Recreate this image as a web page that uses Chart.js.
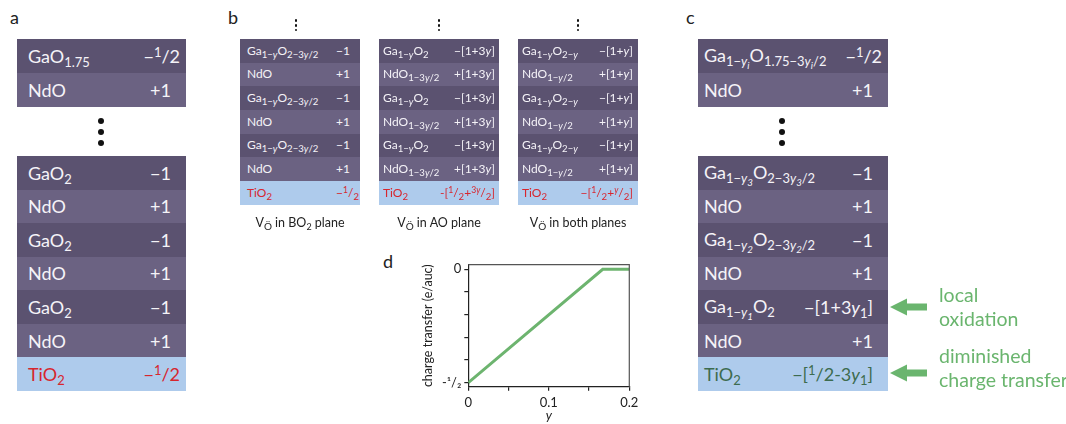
<!DOCTYPE html>
<html><head><meta charset="utf-8">
<script src="https://cdn.jsdelivr.net/npm/chart.js@4.4.1/dist/chart.umd.min.js"></script>
<style>
html,body{margin:0;padding:0;background:#fff;}
body{width:1066px;height:424px;position:relative;overflow:hidden;font-family:Lato,"Open Sans",sans-serif;color:#222;}
.plbl{position:absolute;font-size:18px;line-height:1;}
.stack{position:absolute;}
.row{display:flex;align-items:center;justify-content:space-between;box-sizing:border-box;color:#f5f3f8;white-space:nowrap;line-height:1;}
.row.dark{background:#5b5270;}
.row.light{background:#6b6282;}
.row.blue{background:#aecbec;color:#d7262e;}
.big .row{font-size:18px;}
.small .row{font-size:12px;}
sub{font-size:0.72em;vertical-align:-0.3em;line-height:0;}
sub sub{font-size:0.75em;vertical-align:-0.35em;}
sup{font-size:0.72em;vertical-align:0.45em;line-height:0;}
.small sub{font-size:0.8em;}
.fr{margin-right:-9px;}
.dot{position:absolute;background:#111;border-radius:50%;}
.cap{position:absolute;font-size:12.5px;text-align:center;width:160px;line-height:1;white-space:nowrap;}
.vo{font-size:0.8em;vertical-align:-0.3em;line-height:0;}
.gtxt{position:absolute;color:#6ab56e;font-size:19.5px;line-height:24px;white-space:nowrap;}
#cwrap{position:absolute;left:400px;top:250px;width:250px;height:174px;}
</style>
</head><body>
<div class="plbl" style="left:10px;top:8px;">a</div>
<div class="plbl" style="left:228px;top:8px;">b</div>
<div class="plbl" style="left:686px;top:8px;">c</div>
<div class="plbl" style="left:383px;top:252px;">d</div>
<div id="cwrap"><canvas id="chart" width="250" height="174"></canvas></div>
<svg style="position:absolute;left:0;top:0;" width="1066" height="424">
  <polygon points="890,307 907,298.5 907,303.5 927,303.5 927,310.5 907,310.5 907,315.5" fill="#6ab56e"/>
  <polygon points="890,373 907,364.5 907,369.5 927,369.5 927,376.5 907,376.5 907,381.5" fill="#6ab56e"/>
</svg>
<div class="gtxt" style="left:939px;top:283px;">local<br>oxidation</div>
<div class="gtxt" style="left:939px;top:344px;">diminished<br>charge transfer</div>
<script>
// ---- schematic layer stacks (formula, charge) ----
const panelATop = [['GaO<sub>1.75</sub>', '−<span class="fr"><sup>1</sup>/2</span>'], ['NdO', '+1']];
const panelABottom = [
  ['GaO<sub>2</sub>', '−1'], ['NdO', '+1'], ['GaO<sub>2</sub>', '−1'], ['NdO', '+1'],
  ['GaO<sub>2</sub>', '−1'], ['NdO', '+1'], ['TiO<sub>2</sub>', '−<span class="fr"><sup>1</sup>/2</span>']
];
const panelBBO2 = [
  ['Ga<sub>1−<i>y</i></sub>O<sub>2−3<i>y</i>/2</sub>', '−1'], ['NdO', '+1'],
  ['Ga<sub>1−<i>y</i></sub>O<sub>2−3<i>y</i>/2</sub>', '−1'], ['NdO', '+1'],
  ['Ga<sub>1−<i>y</i></sub>O<sub>2−3<i>y</i>/2</sub>', '−1'], ['NdO', '+1'],
  ['TiO<sub>2</sub>', '−<span class="fr"><sup>1</sup>/<sub>2</sub></span>']
];
const panelBAO = [
  ['Ga<sub>1−<i>y</i></sub>O<sub>2</sub>', '−[1+3<i>y</i>]'], ['NdO<sub>1−3<i>y</i>/2</sub>', '+[1+3<i>y</i>]'],
  ['Ga<sub>1−<i>y</i></sub>O<sub>2</sub>', '−[1+3<i>y</i>]'], ['NdO<sub>1−3<i>y</i>/2</sub>', '+[1+3<i>y</i>]'],
  ['Ga<sub>1−<i>y</i></sub>O<sub>2</sub>', '−[1+3<i>y</i>]'], ['NdO<sub>1−3<i>y</i>/2</sub>', '+[1+3<i>y</i>]'],
  ['TiO<sub>2</sub>', '-[<sup>1</sup>/<sub>2</sub>+<sup>3<i>y</i></sup>/<sub>2</sub>]']
];
const panelBBoth = [
  ['Ga<sub>1−<i>y</i></sub>O<sub>2−<i>y</i></sub>', '−[1+<i>y</i>]'], ['NdO<sub>1−<i>y</i>/2</sub>', '+[1+<i>y</i>]'],
  ['Ga<sub>1−<i>y</i></sub>O<sub>2−<i>y</i></sub>', '−[1+<i>y</i>]'], ['NdO<sub>1−<i>y</i>/2</sub>', '+[1+<i>y</i>]'],
  ['Ga<sub>1−<i>y</i></sub>O<sub>2−<i>y</i></sub>', '−[1+<i>y</i>]'], ['NdO<sub>1−<i>y</i>/2</sub>', '+[1+<i>y</i>]'],
  ['TiO<sub>2</sub>', '−[<sup>1</sup>/<sub>2</sub>+<sup><i>y</i></sup>/<sub>2</sub>]']
];
const panelBCaptions = ['in BO<sub>2</sub> plane', 'in AO plane', 'in both planes'];
const panelCTop = [['Ga<sub>1−<i>y<sub>i</sub></i></sub>O<sub>1.75−3<i>y<sub>i</sub></i>/2</sub>', '−<span class="fr"><sup>1</sup>/2</span>'], ['NdO', '+1']];
const panelCBottom = [
  ['Ga<sub>1−<i>y<sub>3</sub></i></sub>O<sub>2−3<i>y<sub>3</sub></i>/2</sub>', '−1'], ['NdO', '+1'],
  ['Ga<sub>1−<i>y<sub>2</sub></i></sub>O<sub>2−3<i>y<sub>2</sub></i>/2</sub>', '−1'], ['NdO', '+1'],
  ['Ga<sub>1−<i>y<sub>1</sub></i></sub>O<sub>2</sub>', '−[1+3<i>y</i><sub>1</sub>]'], ['NdO', '+1'],
  ['TiO<sub>2</sub>', '−[<sup>1</sup>/2-3<i>y</i><sub>1</sub>]']
];

// ---- panel d chart data ----
const yValues = [0, 0.167, 0.2];
const chargeTransfer = [-0.5, 0, 0];
const xTickValues = [0, 0.05, 0.1, 0.15, 0.2];
const xTickLabels = ['0', '', '0.1', '', '0.2'];
const yTickValues = [-0.5, -0.4, -0.3, -0.2, -0.1, 0];
const yTickLabels = ['-¹/₂', '', '', '', '', '0'];

function rowKind(f){ return f.startsWith('TiO') ? 'blue' : (f.startsWith('NdO') ? 'light' : 'dark'); }
function makeStack(rows, cls, left, top, width, rowH, padL, padR, blueText){
  const s = document.createElement('div');
  s.className = 'stack ' + cls;
  s.style.left = left + 'px'; s.style.top = top + 'px'; s.style.width = width + 'px';
  rows.forEach(([f, q]) => {
    const r = document.createElement('div');
    r.className = 'row ' + rowKind(f);
    r.style.height = rowH + 'px';
    r.style.paddingLeft = padL + 'px'; r.style.paddingRight = padR + 'px';
    if (blueText && rowKind(f) === 'blue') r.style.color = blueText;
    r.innerHTML = '<span>' + f + '</span><span>' + q + '</span>';
    s.appendChild(r);
  });
  document.body.appendChild(s);
}
function dots(x, ys, d){
  ys.forEach(y => { const e = document.createElement('div'); e.className = 'dot';
    e.style.left = (x - d/2) + 'px'; e.style.top = (y - d/2) + 'px'; e.style.width = d + 'px'; e.style.height = d + 'px';
    document.body.appendChild(e); });
}
makeStack(panelATop, 'big', 17, 39, 169, 34, 11, 15);
makeStack(panelABottom, 'big', 17, 156, 169, 33.57, 11, 15);
makeStack(panelBBO2, 'small', 240, 39, 120, 23.67, 7, 10);
makeStack(panelBAO, 'small', 379, 39, 120, 23.67, 4, 4);
makeStack(panelBBoth, 'small', 518, 39, 120, 23.67, 4, 5);
makeStack(panelCTop, 'big', 698, 39, 190, 34, 6, 15);
makeStack(panelCBottom, 'big', 698, 156, 190, 33.57, 6, 15, '#3d6b4f');
dots(101, [120.7, 132, 143.3], 6);
dots(781.7, [120.7, 132, 143.3], 6);
[296, 439, 578].forEach(x => dots(x, [20.7, 25.3, 30], 2.6));
[300, 439, 578].forEach((cx, i) => {
  const c = document.createElement('div'); c.className = 'cap';
  c.style.left = (cx - 80) + 'px'; c.style.top = '217px';
  c.innerHTML = 'V<span class="vo">Ö</span> ' + panelBCaptions[i];
  document.body.appendChild(c);
});

const framePlugin = {
  id: 'frame',
  afterDraw(chart){
    const {ctx, chartArea: a} = chart;
    ctx.save(); ctx.strokeStyle = '#555'; ctx.lineWidth = 1.2;
    ctx.beginPath(); ctx.moveTo(a.left, a.top); ctx.lineTo(a.right, a.top); ctx.lineTo(a.right, a.bottom); ctx.stroke();
    ctx.restore();
  }
};
new Chart(document.getElementById('chart'), {
  type: 'line',
  data: { datasets: [{ data: yValues.map((x, i) => ({x, y: chargeTransfer[i]})),
    borderColor: '#6db46f', borderWidth: 3, pointRadius: 0, tension: 0, fill: false }] },
  options: {
    responsive: false, animation: false, devicePixelRatio: 1,
    layout: { padding: { top: 14.7, right: 20.7, left: 0, bottom: 0 } },
    plugins: { legend: { display: false }, tooltip: { enabled: false } },
    scales: {
      x: { type: 'linear', min: 0, max: 0.2,
        afterBuildTicks: s => { s.ticks = xTickValues.map(v => ({value: v})); },
        afterFit: s => { s.height = 37.3; },
        ticks: { autoSkip: false, maxRotation: 0, padding: 4, color: '#222', font: {family: 'Lato', size: 13},
          callback: (v) => { const i = xTickValues.findIndex(t => Math.abs(t - v) < 1e-9); return i >= 0 ? xTickLabels[i] : ''; } },
        grid: { drawOnChartArea: false, drawTicks: true, tickLength: 4, color: '#222', lineWidth: 1.2 },
        border: { display: true, color: '#222', width: 1.2 },
        title: { display: true, text: 'y', color: '#222', font: {family: 'Lato', size: 13, style: 'italic'}, padding: {top: 0, bottom: 0} }
      },
      y: { type: 'linear', min: -0.518, max: 0.02,
        afterBuildTicks: s => { s.ticks = yTickValues.map(v => ({value: v})); },
        afterFit: s => { s.width = 68.3; },
        ticks: { autoSkip: false, padding: 3, color: '#222', font: {family: 'Lato', size: 13},
          callback: (v) => { const i = yTickValues.findIndex(t => Math.abs(t - v) < 1e-9); return i >= 0 ? yTickLabels[i] : ''; } },
        grid: { drawOnChartArea: false, drawTicks: true, tickLength: 4, color: '#222', lineWidth: 1.2 },
        border: { display: true, color: '#222', width: 1.2 },
        title: { display: true, text: 'charge transfer (e/auc)', color: '#222', font: {family: 'Lato', size: 12.5}, padding: {top: 20.5, bottom: 0} }
      }
    }
  },
  plugins: [framePlugin]
});
</script>
</body></html>
